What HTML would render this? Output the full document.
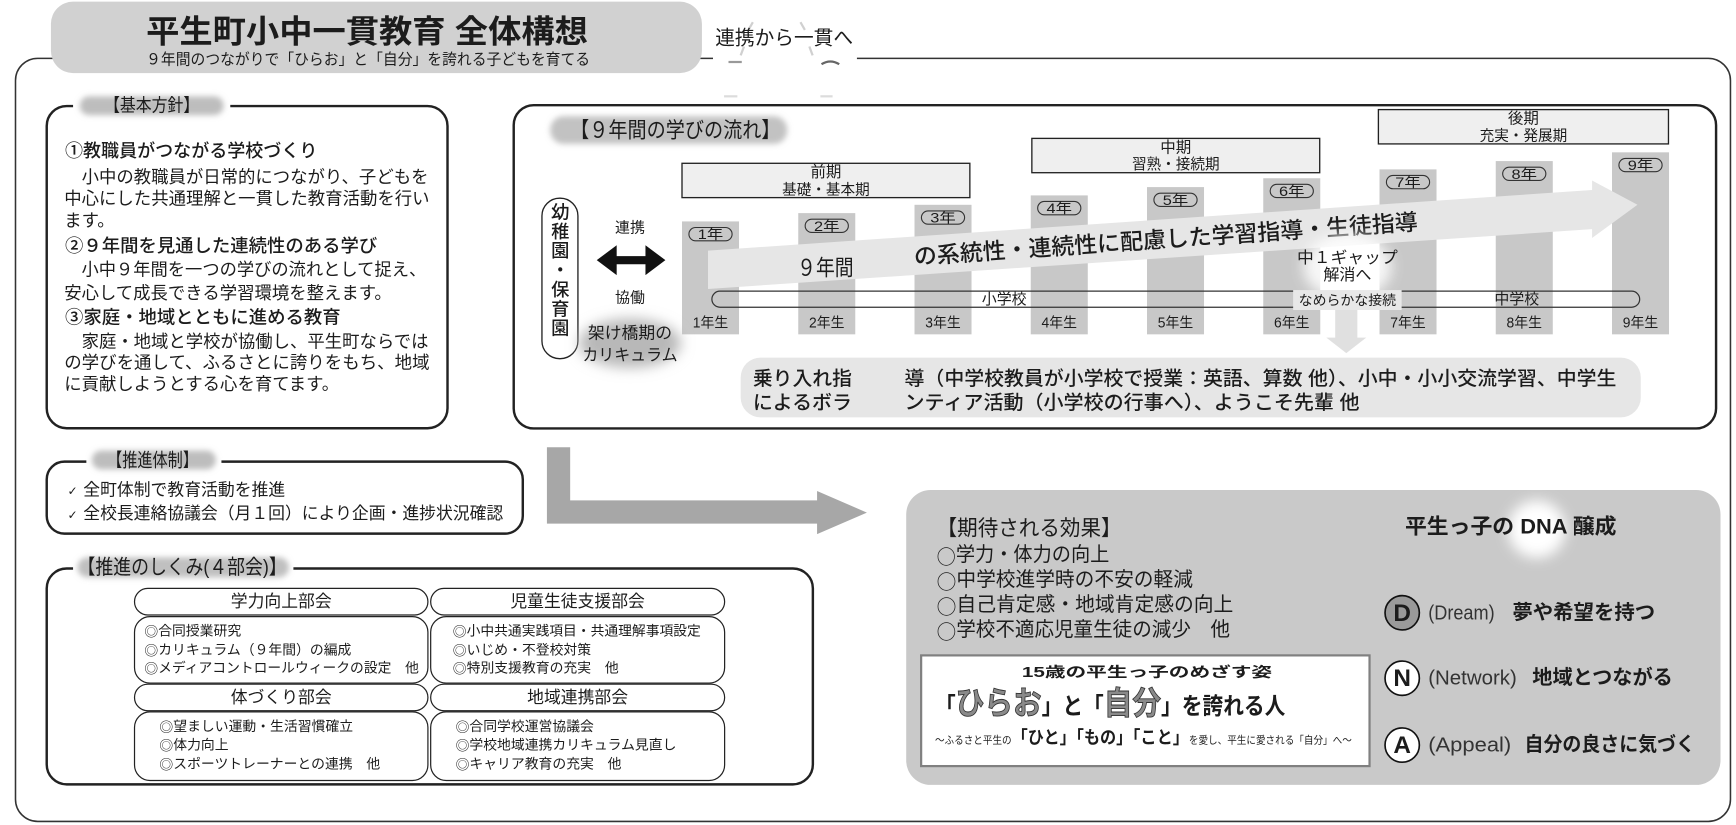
<!DOCTYPE html>
<html><head><meta charset="utf-8">
<style>
html,body{margin:0;padding:0;background:#fff;}
svg{display:block;}
text{font-family:"Liberation Sans","Noto Sans CJK JP",sans-serif;fill:#1c1c1c;dominant-baseline:central;}
.b{font-weight:bold;}
.md{font-weight:500;}
.m{text-anchor:middle;}
.al{dominant-baseline:alphabetic;}
.j{font-family:"Noto Sans CJK JP",sans-serif;}
</style></head><body>
<svg width="1736" height="825" viewBox="0 0 1568 745.2" preserveAspectRatio="none" xmlns="http://www.w3.org/2000/svg">
<defs>
<filter id="bl" x="-30%" y="-80%" width="160%" height="260%"><feGaussianBlur stdDeviation="2.6"/></filter>
<filter id="bl2" x="-60%" y="-60%" width="220%" height="220%"><feGaussianBlur stdDeviation="6"/></filter>
</defs>
<rect width="1568" height="745.2" fill="#fff"/>

<!-- outer frame -->
<rect x="14" y="52.7" width="1549" height="689.3" rx="20" fill="none" stroke="#333" stroke-width="1.4"/>
<rect x="644" y="47" width="130" height="12" fill="#fff"/>
<g fill="none" stroke-width="2">
<path d="M680 20 L676 27" stroke="#d0d0d0"/><path d="M672 42 L669 50" stroke="#d0d0d0"/>
<path d="M723 20 L727 27" stroke="#d0d0d0"/><path d="M731 42 L734 50" stroke="#d0d0d0"/>
<path d="M658 56 L670 56" stroke="#999"/><path d="M742 58 Q750 53 758 58" stroke="#666"/>
<path d="M654 87 L666 87" stroke="#dcdcdc"/><path d="M741 87 L752 87" stroke="#dcdcdc"/>
</g>
<text x="646" y="34.6" font-size="17.8" textLength="124.5" lengthAdjust="spacingAndGlyphs">連携から一貫へ</text>

<!-- title -->
<rect x="46" y="1.5" width="588" height="64.5" rx="20" fill="#d1d1d1"/>
<text x="132" y="28.6" font-size="29" class="b" textLength="399" lengthAdjust="spacingAndGlyphs">平生町小中一貫教育 全体構想</text>
<text x="132" y="54" font-size="13.8" textLength="401" lengthAdjust="spacingAndGlyphs">９年間のつながりで「ひらお」と「自分」を誇れる子どもを育てる</text>

<!-- 基本方針 -->
<rect x="42.2" y="95.8" width="362" height="291" rx="18" fill="none" stroke="#222" stroke-width="2.2"/>
<rect x="66" y="84" width="142" height="22" fill="#fff"/>
<rect x="72" y="87" width="130" height="17" rx="8.5" fill="#bdbdbd" filter="url(#bl)"/>
<text x="137" y="95" font-size="16.5" class="m" textLength="86" lengthAdjust="spacingAndGlyphs">【基本方針】</text>
<g font-size="15.7">
<text x="58.7" y="136.5" font-size="16.4" class="md" textLength="228" lengthAdjust="spacingAndGlyphs">①教職員がつながる学校づくり</text>
<text x="58" y="160" textLength="329" lengthAdjust="spacingAndGlyphs">　小中の教職員が日常的につながり、子どもを</text>
<text x="58" y="179.5" textLength="330" lengthAdjust="spacingAndGlyphs">中心にした共通理解と一貫した教育活動を行い</text>
<text x="58" y="199">ます。</text>
<text x="58.7" y="222" font-size="16.4" class="md" textLength="282" lengthAdjust="spacingAndGlyphs">②９年間を見通した連続性のある学び</text>
<text x="58" y="243.5" textLength="327" lengthAdjust="spacingAndGlyphs">　小中９年間を一つの学びの流れとして捉え、</text>
<text x="58" y="264.5">安心して成長できる学習環境を整えます。</text>
<text x="58.7" y="287" font-size="16.4" class="md" textLength="249" lengthAdjust="spacingAndGlyphs">③家庭・地域とともに進める教育</text>
<text x="58" y="308.5" textLength="329" lengthAdjust="spacingAndGlyphs">　家庭・地域と学校が協働し、平生町ならでは</text>
<text x="58" y="327.5" textLength="330" lengthAdjust="spacingAndGlyphs">の学びを通して、ふるさとに誇りをもち、地域</text>
<text x="58" y="347">に貢献しようとする心を育てます。</text>
</g>

<!-- 9年間の学びの流れ -->
<rect x="464" y="95" width="1086" height="292" rx="18" fill="none" stroke="#222" stroke-width="2.2"/>
<rect x="497" y="105" width="214" height="25" rx="12" fill="#c2c2c2" filter="url(#bl)"/>
<text x="610" y="117.4" font-size="19.5" class="m" textLength="190" lengthAdjust="spacingAndGlyphs">【９年間の学びの流れ】</text>

<!-- period boxes -->
<g fill="#efefef" stroke="#222" stroke-width="1.2">
<rect x="616" y="147.5" width="260" height="31"/>
<rect x="932" y="125" width="260" height="31"/>
<rect x="1245" y="99" width="262" height="31"/>
</g>
<text x="746" y="156" font-size="14" class="m">前期</text>
<text x="746" y="172" font-size="13.2" class="m">基礎・基本期</text>
<text x="1062" y="133.5" font-size="14" class="m">中期</text>
<text x="1062" y="149" font-size="13.2" class="m">習熟・接続期</text>
<text x="1376" y="107.5" font-size="14" class="m">後期</text>
<text x="1376" y="123.5" font-size="13.2" class="m">充実・発展期</text>

<!-- bars -->
<g fill="#c8c8c8">
<rect x="616" y="200" width="51.5" height="102"/>
<rect x="721" y="192.5" width="51.5" height="109.5"/>
<rect x="826" y="185" width="51.5" height="117"/>
<rect x="931" y="176.5" width="51.5" height="125.5"/>
<rect x="1036" y="169" width="51.5" height="133"/>
<rect x="1141" y="161" width="51.5" height="141"/>
<rect x="1246" y="153" width="51.5" height="149"/>
<rect x="1351" y="145.5" width="51.5" height="156.5"/>
<rect x="1456" y="137.6" width="51.5" height="164.4"/>
</g>

<!-- big band arrow -->
<polygon points="639.5,226.4 1438,171.6 1438,163 1479,185 1438,215 1438,207 639.5,261" fill="#e6e6e6"/>
<text x="745.5" y="242" font-size="20" class="m" textLength="51" lengthAdjust="spacingAndGlyphs">９年間</text>
<text x="1053" y="216" font-size="20.5" class="m md" textLength="456" lengthAdjust="spacingAndGlyphs" transform="rotate(-3.96 1053 216)">の系統性・連続性に配慮した学習指導・生徒指導</text>

<!-- year pills -->
<g fill="none" stroke="#333" stroke-width="1">
<rect x="622.25" y="205.5" width="39" height="12" rx="6"/>
<rect x="727.25" y="198" width="39" height="12" rx="6"/>
<rect x="832.25" y="190.5" width="39" height="12" rx="6"/>
<rect x="937.25" y="182" width="39" height="12" rx="6"/>
<rect x="1042.25" y="174.5" width="39" height="12" rx="6"/>
<rect x="1147.25" y="166.5" width="39" height="12" rx="6"/>
<rect x="1252.25" y="158.5" width="39" height="12" rx="6"/>
<rect x="1357.25" y="151" width="39" height="12" rx="6"/>
<rect x="1462.25" y="143.1" width="39" height="12" rx="6"/>
</g>
<g font-size="12.5">
<text x="641.75" y="211.5" class="m" textLength="23" lengthAdjust="spacingAndGlyphs">1年</text>
<text x="746.75" y="204" class="m" textLength="23" lengthAdjust="spacingAndGlyphs">2年</text>
<text x="851.75" y="196.5" class="m" textLength="23" lengthAdjust="spacingAndGlyphs">3年</text>
<text x="956.75" y="188" class="m" textLength="23" lengthAdjust="spacingAndGlyphs">4年</text>
<text x="1061.75" y="180.5" class="m" textLength="23" lengthAdjust="spacingAndGlyphs">5年</text>
<text x="1166.75" y="172.5" class="m" textLength="23" lengthAdjust="spacingAndGlyphs">6年</text>
<text x="1271.75" y="164.5" class="m" textLength="23" lengthAdjust="spacingAndGlyphs">7年</text>
<text x="1376.75" y="157" class="m" textLength="23" lengthAdjust="spacingAndGlyphs">8年</text>
<text x="1481.75" y="149.1" class="m" textLength="23" lengthAdjust="spacingAndGlyphs">9年</text>
</g>

<!-- track -->
<rect x="643" y="263" width="838" height="14.5" rx="7.25" fill="none" stroke="#333" stroke-width="1.1"/>
<text x="907" y="270.5" font-size="13.5" class="m">小学校</text>
<text x="1370" y="270.5" font-size="13.5" class="m">中学校</text>
<ellipse cx="1217" cy="241" rx="40" ry="30" fill="#fff" opacity="0.85" filter="url(#bl2)"/>
<text x="1217" y="233" font-size="14.5" class="m" textLength="91" lengthAdjust="spacingAndGlyphs">中１ギャップ</text>
<text x="1217" y="248.5" font-size="14.5" class="m">解消へ</text>
<rect x="1168" y="262" width="98" height="18" fill="#e8e8e8"/>
<text x="1217" y="271" font-size="12.5" class="m" textLength="88" lengthAdjust="spacingAndGlyphs">なめらかな接続</text>
<polygon points="1206,280 1226,280 1226,305 1234,305 1216,319 1198,305 1206,305" fill="#e0e0e0"/>

<!-- bottom year labels -->
<g font-size="13">
<text x="641.75" y="292" class="m" textLength="32" lengthAdjust="spacingAndGlyphs">1年生</text>
<text x="746.75" y="292" class="m" textLength="32" lengthAdjust="spacingAndGlyphs">2年生</text>
<text x="851.75" y="292" class="m" textLength="32" lengthAdjust="spacingAndGlyphs">3年生</text>
<text x="956.75" y="292" class="m" textLength="32" lengthAdjust="spacingAndGlyphs">4年生</text>
<text x="1061.75" y="292" class="m" textLength="32" lengthAdjust="spacingAndGlyphs">5年生</text>
<text x="1166.75" y="292" class="m" textLength="32" lengthAdjust="spacingAndGlyphs">6年生</text>
<text x="1271.75" y="292" class="m" textLength="32" lengthAdjust="spacingAndGlyphs">7年生</text>
<text x="1376.75" y="292" class="m" textLength="32" lengthAdjust="spacingAndGlyphs">8年生</text>
<text x="1481.75" y="292" class="m" textLength="32" lengthAdjust="spacingAndGlyphs">9年生</text>
</g>

<!-- 幼稚園・保育園 -->
<rect x="489.5" y="179" width="32.5" height="145" rx="16" fill="#fff" stroke="#222" stroke-width="1.2"/>
<g font-size="16.5">
<text x="506" y="191.5" class="m md">幼</text>
<text x="506" y="209" class="m md">稚</text>
<text x="506" y="226.5" class="m md">園</text>
<text x="506" y="244" class="m md">・</text>
<text x="506" y="261.5" class="m md">保</text>
<text x="506" y="279" class="m md">育</text>
<text x="506" y="296.5" class="m md">園</text>
</g>
<text x="569" y="206" font-size="13.5" class="m">連携</text>
<polygon points="539,235 557,221.5 557,231.3 583,231.3 583,221.5 601,235 583,248.5 583,238.7 557,238.7 557,248.5" fill="#111"/>
<text x="569" y="269" font-size="13.5" class="m">協働</text>
<ellipse cx="569" cy="310" rx="46" ry="22" fill="#b8b8b8" filter="url(#bl2)"/>
<text x="569" y="300.6" font-size="15" class="m" textLength="76" lengthAdjust="spacingAndGlyphs">架け橋期の</text>
<text x="569" y="320.7" font-size="15" class="m" textLength="86" lengthAdjust="spacingAndGlyphs">カリキュラム</text>

<!-- bottom pill -->
<rect x="669" y="323" width="813" height="54" rx="18" fill="#e6e6e6"/>
<g font-size="17.5" class="md">
<text x="680" y="342.5" class="md" textLength="89.5" lengthAdjust="spacingAndGlyphs">乗り入れ指</text>
<text x="680" y="364" class="md" textLength="89.5" lengthAdjust="spacingAndGlyphs">によるボラ</text>
<text x="817" y="342.5" class="md" textLength="643" lengthAdjust="spacingAndGlyphs">導（中学校教員が小学校で授業：英語、算数 他）、小中・小小交流学習、中学生</text>
<text x="817" y="364" class="md" textLength="411" lengthAdjust="spacingAndGlyphs">ンティア活動（小学校の行事へ）、ようこそ先輩 他</text>
</g>

<!-- 推進体制 -->
<rect x="42.2" y="417" width="430" height="65" rx="16" fill="none" stroke="#222" stroke-width="2.2"/>
<rect x="78" y="405" width="122" height="22" fill="#fff"/>
<rect x="83" y="407" width="112" height="17" rx="8.5" fill="#bdbdbd" filter="url(#bl)"/>
<text x="137.8" y="415.5" font-size="17" class="m" textLength="82" lengthAdjust="spacingAndGlyphs">【推進体制】</text>
<text x="61" y="443.5" font-size="11" style="font-family:'DejaVu Sans',sans-serif">✓</text>
<text x="75.2" y="442.5" font-size="15.2" textLength="182.4" lengthAdjust="spacingAndGlyphs">全町体制で教育活動を推進</text>
<text x="61" y="465" font-size="11" style="font-family:'DejaVu Sans',sans-serif">✓</text>
<text x="75.2" y="464" font-size="15.2" textLength="379.3" lengthAdjust="spacingAndGlyphs">全校長連絡協議会（月１回）により企画・進捗状況確認</text>

<!-- L arrow -->
<polygon points="494,404 515,404 515,452 738,452 738,443.5 783,463 738,482.5 738,473 494,473" fill="#a7a7a7"/>

<!-- 推進のしくみ -->
<rect x="42.2" y="513.5" width="692" height="195" rx="18" fill="none" stroke="#222" stroke-width="2.2"/>
<rect x="66" y="501" width="199" height="24" fill="#fff"/>
<rect x="70" y="503.5" width="191" height="18" rx="9" fill="#c0c0c0" filter="url(#bl)"/>
<text x="70" y="512.5" font-size="18.5" textLength="189" lengthAdjust="spacingAndGlyphs">【推進のしくみ(４部会)】</text>

<g fill="#fff" stroke="#222" stroke-width="1.1">
<rect x="121.5" y="531.5" width="265" height="24" rx="12"/>
<rect x="389" y="531.5" width="265.5" height="24" rx="12"/>
<rect x="121.5" y="557" width="265" height="60" rx="14"/>
<rect x="389" y="557" width="265.5" height="60" rx="14"/>
<rect x="121.5" y="618" width="265" height="24" rx="12"/>
<rect x="389" y="618" width="265.5" height="24" rx="12"/>
<rect x="121.5" y="643" width="265" height="62" rx="14"/>
<rect x="389" y="643" width="265.5" height="62" rx="14"/>
</g>
<g font-size="15.2">
<text x="254" y="543.5" class="m">学力向上部会</text>
<text x="521.7" y="543.5" class="m">児童生徒支援部会</text>
<text x="254" y="630" class="m">体づくり部会</text>
<text x="521.7" y="630" class="m">地域連携部会</text>
</g>
<g font-size="12.5">
<text x="130.4" y="569.7"><tspan class="j">◎</tspan>合同授業研究</text>
<text x="130.4" y="586.5"><tspan class="j">◎</tspan>カリキュラム（９年間）の編成</text>
<text x="130.4" y="602.8" textLength="248" lengthAdjust="spacingAndGlyphs"><tspan class="j">◎</tspan>メディアコントロールウィークの設定　他</text>
<text x="409" y="569.7" textLength="224" lengthAdjust="spacingAndGlyphs"><tspan class="j">◎</tspan>小中共通実践項目・共通理解事項設定</text>
<text x="409" y="586.5"><tspan class="j">◎</tspan>いじめ・不登校対策</text>
<text x="409" y="602.8"><tspan class="j">◎</tspan>特別支援教育の充実　他</text>
<text x="144" y="655.8"><tspan class="j">◎</tspan>望ましい運動・生活習慣確立</text>
<text x="144" y="672.3"><tspan class="j">◎</tspan>体力向上</text>
<text x="144" y="689.5"><tspan class="j">◎</tspan>スポーツトレーナーとの連携　他</text>
<text x="411.5" y="655.8"><tspan class="j">◎</tspan>合同学校運営協議会</text>
<text x="411.5" y="672.3"><tspan class="j">◎</tspan>学校地域連携カリキュラム見直し</text>
<text x="411.5" y="689.5"><tspan class="j">◎</tspan>キャリア教育の充実　他</text>
</g>

<!-- effect box -->
<rect x="818.5" y="442.6" width="735.5" height="266.4" rx="22" fill="#c9c9c9"/>
<text x="846" y="477" font-size="19.5" textLength="167" lengthAdjust="spacingAndGlyphs">【期待される効果】</text>
<g font-size="18">
<text x="846" y="501.4" textLength="156" lengthAdjust="spacingAndGlyphs"><tspan class="j">○</tspan>学力・体力の向上</text>
<text x="846" y="523.9" textLength="231.5" lengthAdjust="spacingAndGlyphs"><tspan class="j">○</tspan>中学校進学時の不安の軽減</text>
<text x="846" y="546.5" textLength="268" lengthAdjust="spacingAndGlyphs"><tspan class="j">○</tspan>自己肯定感・地域肯定感の向上</text>
<text x="846" y="569" textLength="265" lengthAdjust="spacingAndGlyphs"><tspan class="j">○</tspan>学校不適応児童生徒の減少　他</text>
</g>

<rect x="832" y="592" width="405" height="100" fill="#fff" stroke="#808080" stroke-width="2"/>
<text x="1036" y="608" font-size="13" class="m b" textLength="226" lengthAdjust="spacingAndGlyphs">15歳の平生っ子のめざす姿</text>
<text x="844.5" y="645" class="al b" font-size="21" textLength="316.5" lengthAdjust="spacingAndGlyphs">「<tspan font-size="29" style="fill:#8a8a8a;stroke:#333;stroke-width:0.8">ひらお</tspan>」と「<tspan font-size="29" style="fill:#8a8a8a;stroke:#333;stroke-width:0.8">自分</tspan>」を誇れる人</text>
<text x="844.5" y="671.5" class="al" font-size="9.5" textLength="376.5" lengthAdjust="spacingAndGlyphs">〜ふるさと平生の<tspan font-size="16" font-weight="bold">「ひと」「もの」「こと」</tspan>を愛し、平生に愛される「自分」へ〜</text>

<!-- DNA -->
<circle cx="1388" cy="478" r="26" fill="#fff" filter="url(#bl2)"/>
<text x="1269" y="476" font-size="19" class="b" textLength="191" lengthAdjust="spacingAndGlyphs">平生っ子の DNA 醸成</text>

<circle cx="1266.5" cy="553.5" r="15.5" fill="#9a9a9a" stroke="#111" stroke-width="1.5"/>
<text x="1266.5" y="554" font-size="22" class="m b">D</text>
<text x="1290" y="553.5" font-size="18.5" textLength="60" lengthAdjust="spacingAndGlyphs" style="fill:#333">(Dream)</text>
<text x="1366" y="553.5" font-size="18" class="b" textLength="129" lengthAdjust="spacingAndGlyphs">夢や希望を持つ</text>

<circle cx="1266.5" cy="612.6" r="15.5" fill="#fff" stroke="#111" stroke-width="1.5"/>
<text x="1266.5" y="613" font-size="22" class="m b">N</text>
<text x="1290" y="612.6" font-size="18.5" textLength="80" lengthAdjust="spacingAndGlyphs" style="fill:#333">(Network)</text>
<text x="1384" y="612.6" font-size="18" class="b" textLength="127" lengthAdjust="spacingAndGlyphs">地域とつながる</text>

<circle cx="1266.5" cy="673" r="15.5" fill="#fff" stroke="#111" stroke-width="1.5"/>
<text x="1266.5" y="673.5" font-size="22" class="m b">A</text>
<text x="1290" y="673" font-size="18.5" textLength="75" lengthAdjust="spacingAndGlyphs" style="fill:#333">(Appeal)</text>
<text x="1377" y="673" font-size="18" class="b" textLength="154" lengthAdjust="spacingAndGlyphs">自分の良さに気づく</text>
</svg>
</body></html>
